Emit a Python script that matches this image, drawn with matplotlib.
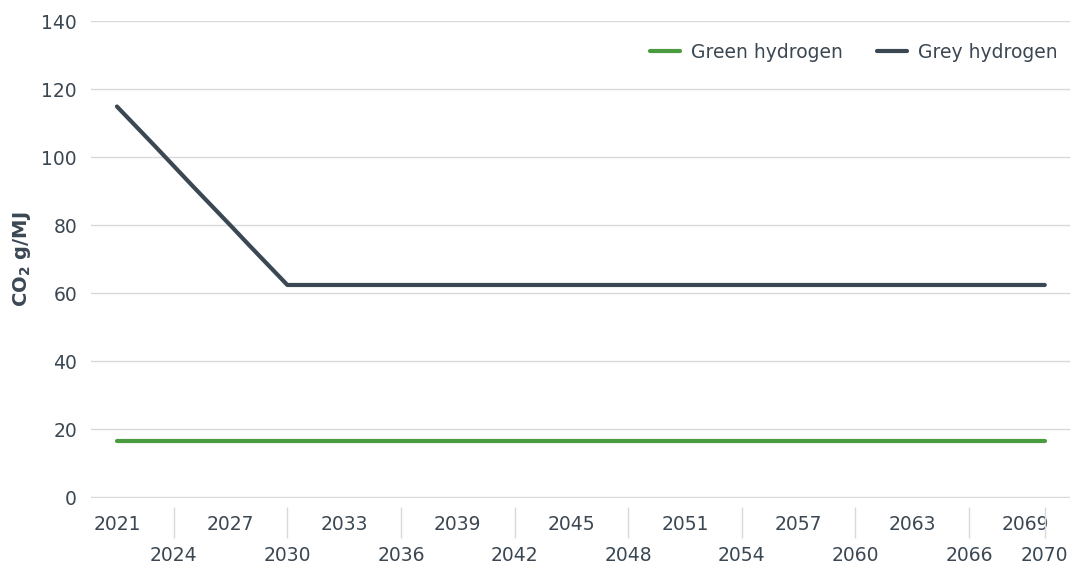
import matplotlib
matplotlib.use("Agg")
import matplotlib.pyplot as plt

###############################################################################
#                                   Data                                      #
###############################################################################
years = list(range(2021, 2071))
green = [16.5] * len(years)
grey_start = [115.0, 109.2, 103.4, 97.5, 91.6, 85.8, 80.0, 74.1, 68.3]
grey = grey_start + [62.5] * (len(years) - len(grey_start))

top_labels = [2021, 2027, 2033, 2039, 2045, 2051, 2057, 2063, 2069]
bottom_labels = [2024, 2030, 2036, 2042, 2048, 2054, 2060, 2066, 2070]
separators = [2024, 2030, 2036, 2042, 2048, 2054, 2060, 2066, 2070]
y_ticks = [0, 20, 40, 60, 80, 100, 120, 140]

# Colours / fonts
c_green = '#4a9b3f'
c_grey = '#3b4752'
c_text = '#3b4752'
c_grid = '#d9d9d9'
fs = 13.5

plt.rcParams['font.family'] = ['DejaVu Sans']
plt.rcParams['mathtext.fontset'] = 'dejavusans'

###############################################################################
#                                   Plot                                      #
###############################################################################
fig = plt.figure(figsize=(10.73, 5.67), dpi=100)
ax = fig.add_axes([0.0848, 0.1217, 0.9122, 0.8413])

ax.plot(years, green, color=c_green, linewidth=3, label='Green hydrogen',
        solid_capstyle='round')
ax.plot(years, grey, color=c_grey, linewidth=3, label='Grey hydrogen',
        solid_capstyle='round')

ax.set_ylim(-0.15, 140.15)                                                      # keep edge gridlines whole
ax.set_xlim(2019.63, 2071.32)
ax.set_yticks(y_ticks)
ax.grid(axis='y', color=c_grid, linewidth=1)
ax.set_axisbelow(True)
for s in ax.spines.values():
    s.set_visible(False)

ax.tick_params(axis='y', length=0, pad=10, labelsize=fs, labelcolor=c_text)
ax.tick_params(axis='x', length=0, pad=12, labelsize=fs, labelcolor=c_text)

# top row via ticks, bottom row as texts
ax.set_xticks(top_labels)
ax.set_xticklabels([str(y) for y in top_labels])
for y in bottom_labels:
    ax.text(y, -0.121, str(y), transform=ax.get_xaxis_transform(),
            ha='center', va='center', fontsize=fs, color=c_text)

# separator ticks between labels in the top row
ax.vlines(separators, -0.019, -0.084, transform=ax.get_xaxis_transform(),
          color=c_grid, linewidth=1, clip_on=False)

ax.set_ylabel(r'CO$_\mathbf{2}$ g/MJ', fontsize=14, fontweight='bold',
              color=c_text, labelpad=6)

ax.legend(loc='upper right', ncol=2, frameon=False, fontsize=fs,
          labelcolor=c_text, handlelength=1.6, columnspacing=1.8,
          handletextpad=0.6, bbox_to_anchor=(1.005, 0.99))

fig.savefig('out.png', dpi=100)
